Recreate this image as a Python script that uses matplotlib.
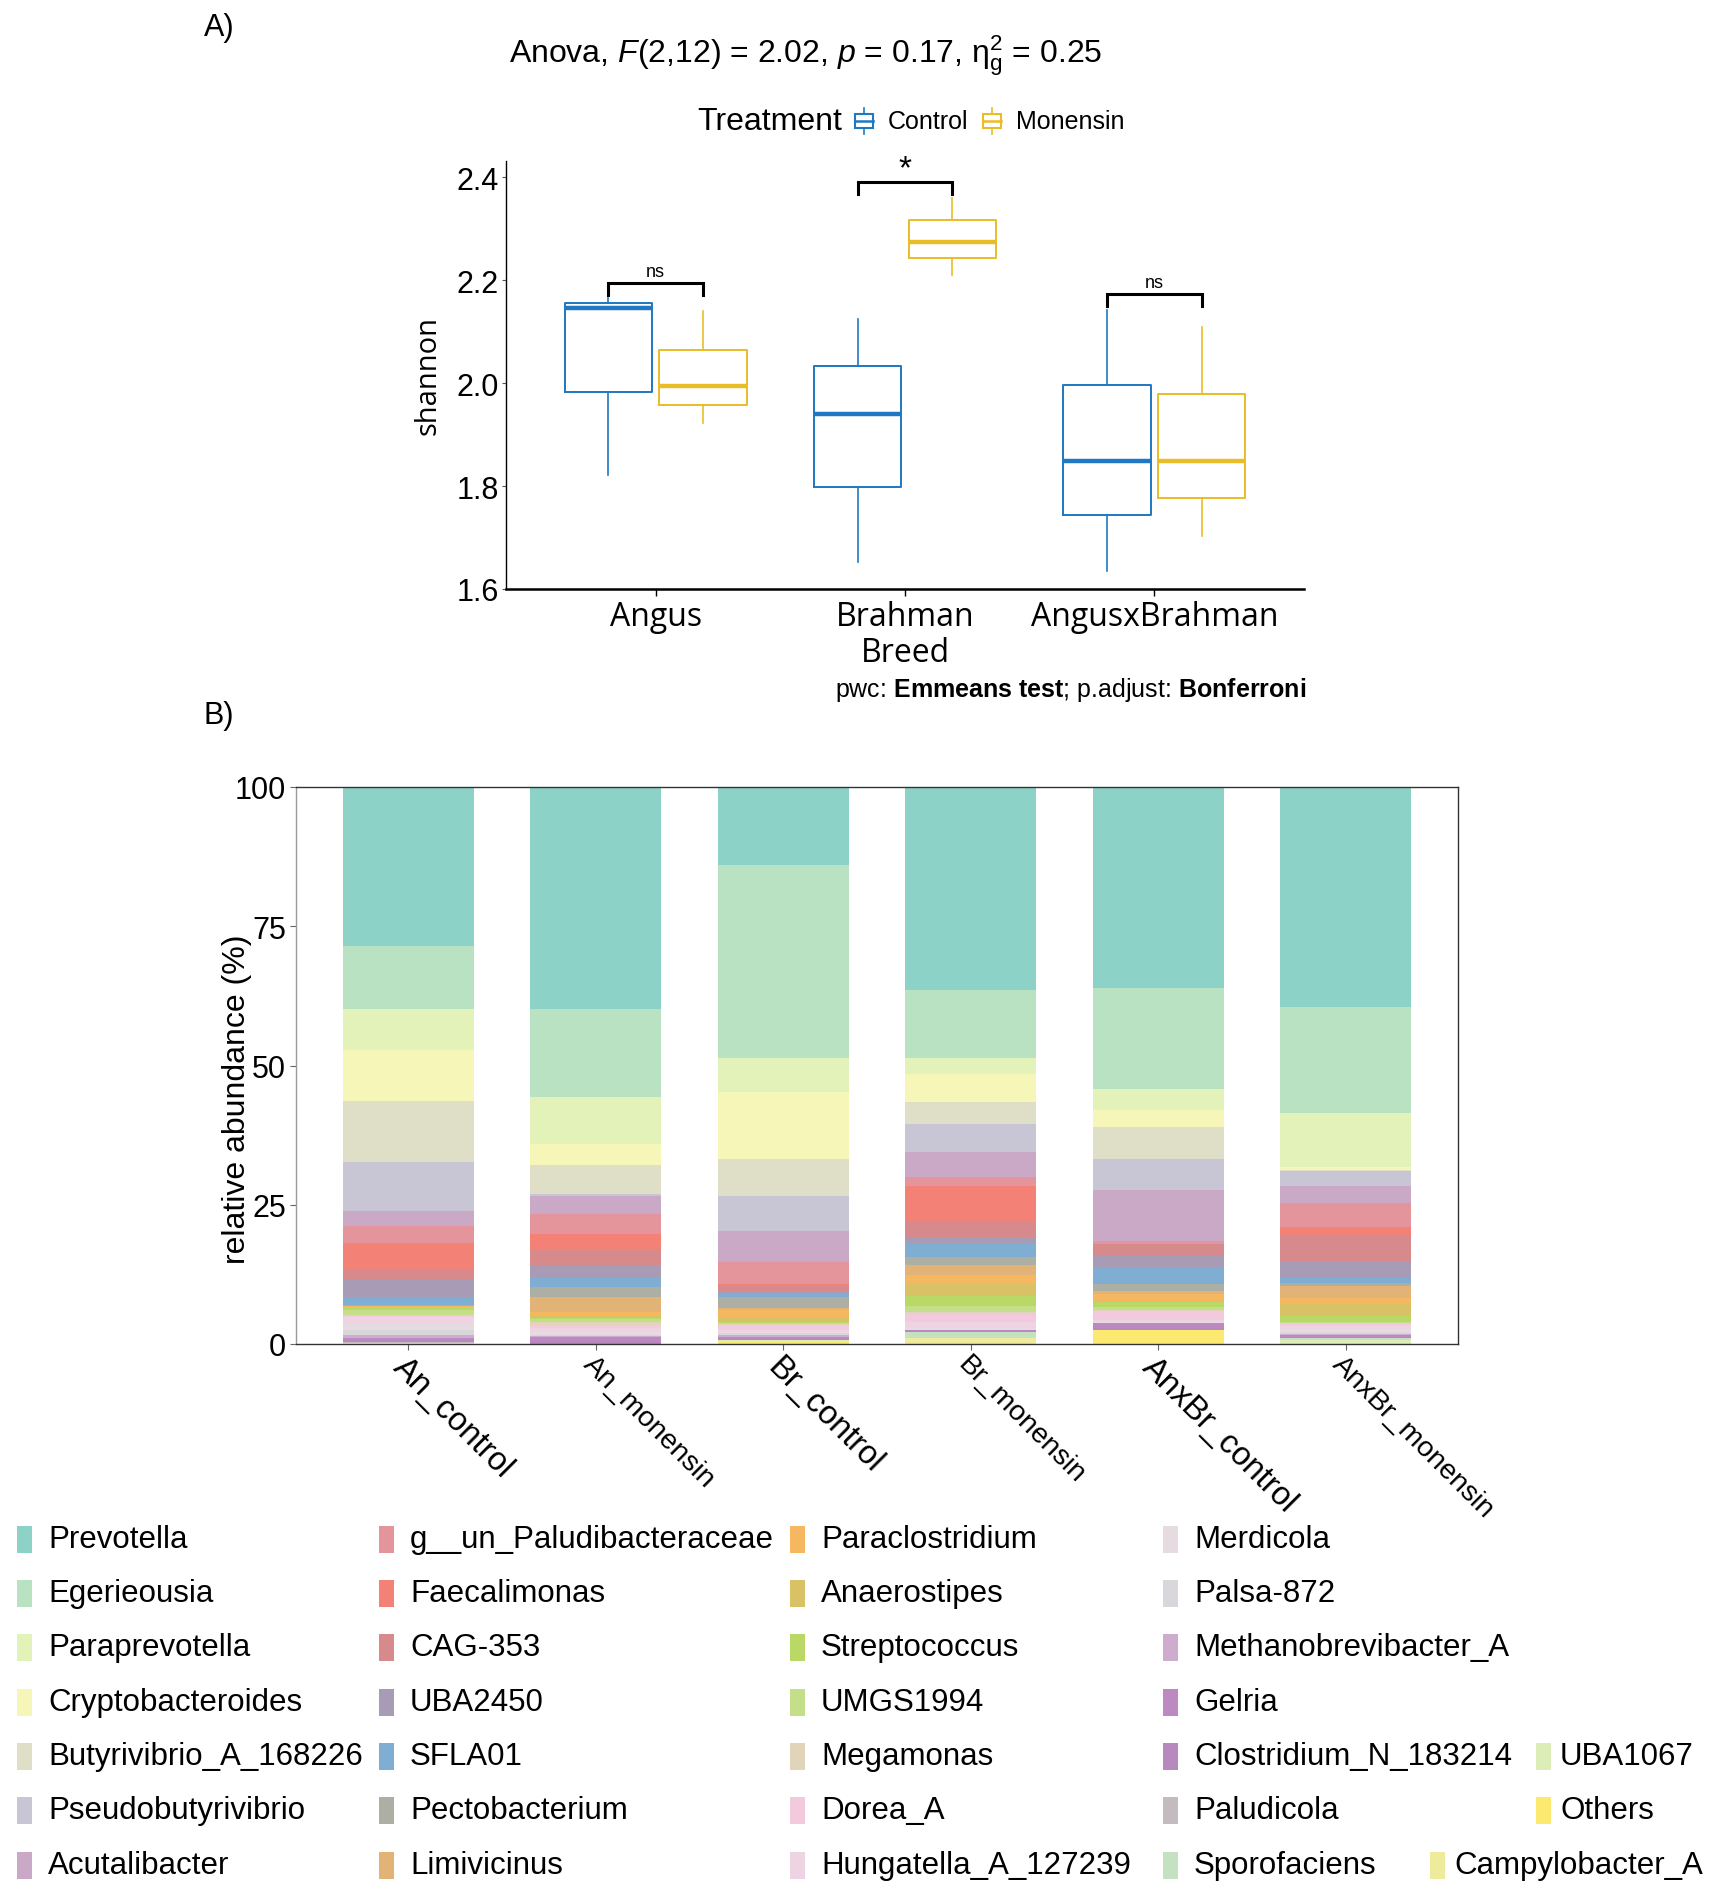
import matplotlib
matplotlib.use("Agg")
import matplotlib.pyplot as plt
from matplotlib.patches import Rectangle
from matplotlib.lines import Line2D

plt.rcParams['font.family'] = ['Liberation Sans', 'DejaVu Sans']
plt.rcParams['mathtext.fontset'] = 'custom'
plt.rcParams['mathtext.rm'] = 'Liberation Sans'
plt.rcParams['mathtext.it'] = 'Liberation Sans:italic'
plt.rcParams['mathtext.bf'] = 'Liberation Sans:bold'

# ---------------- panel A data ----------------
breeds = ['Angus', 'Brahman', 'AngusxBrahman']
treatments = ['Control', 'Monensin']
treat_colors = ['#1f78c1', '#e9bd27']
# [lower whisker, q1, median, q3, upper whisker] per breed
control_stats = [
    [1.822, 1.983, 2.147, 2.155, 2.165],
    [1.653, 1.799, 1.941, 2.034, 2.124],
    [1.635, 1.743, 1.849, 1.996, 2.143],
]
monensin_stats = [
    [1.923, 1.958, 1.994, 2.065, 2.140],
    [2.211, 2.244, 2.275, 2.317, 2.360],
    [1.704, 1.776, 1.849, 1.979, 2.110],
]
sig_labels = ['ns', '*', 'ns']
sig_y = [2.195, 2.391, 2.174]

# ---------------- panel B data ----------------
samples = ['An_control', 'An_monensin', 'Br_control', 'Br_monensin',
           'AnxBr_control', 'AnxBr_monensin']
taxa = ['Prevotella', 'Egerieousia', 'Paraprevotella', 'Cryptobacteroides',
        'Butyrivibrio_A_168226', 'Pseudobutyrivibrio', 'Acutalibacter',
        'g__un_Paludibacteraceae', 'Faecalimonas', 'CAG-353', 'UBA2450',
        'SFLA01', 'Pectobacterium', 'Limivicinus', 'Paraclostridium',
        'Anaerostipes', 'Streptococcus', 'UMGS1994', 'Megamonas', 'Dorea_A',
        'Hungatella_A_127239', 'Merdicola', 'Palsa-872',
        'Methanobrevibacter_A', 'Gelria', 'Clostridium_N_183214',
        'Paludicola', 'Sporofaciens', 'UBA1067', 'Others', 'Campylobacter_A']
taxa_colors = ['#8dd2c6', '#b8e2c1', '#e2f2b9', '#f6f6b8', '#dfdfc8',
               '#c8c6d4', '#c9a9c6', '#e3959b', '#f48176', '#d68a8c',
               '#a89bb5', '#80aed3', '#aeafa4', '#e1b376', '#f5b760',
               '#d9c265', '#b9d866', '#c5de8a', '#e1d4b8', '#f3c9dd',
               '#eed3e3', '#e6dbe0', '#d9d7dc', '#cdacce', '#bc89c3',
               '#b789be', '#c3bbc0', '#c4e2c2', '#ddedb8', '#fcea70',
               '#eeeb9c']
an_control = [28.6, 11.2, 7.5, 9.1, 11.0, 8.7, 2.7, 3.1, 4.9, 1.5, 3.3, 1.4,
              0.1, 0.1, 0.1, 0.1, 0.5, 0.9, 0.1, 0.3, 1.2, 1.0, 0.9, 0.6, 0.4,
              0.3, 0.2, 0.1, 0.1, 0.0, 0.0]
an_monensin = [39.9, 15.8, 8.4, 3.8, 5.2, 0.4, 3.2, 3.5, 2.9, 2.9, 2.2, 1.5,
               1.9, 2.7, 0.6, 0.4, 0.3, 0.4, 0.6, 0.5, 0.8, 0.4, 0.3, 0.1, 0.8,
               0.5, 0.0, 0.0, 0.0, 0.0, 0.0]
br_control = [14.0, 34.7, 6.1, 12.0, 6.7, 6.3, 5.5, 4.0, 0.2, 1.0, 0.5, 0.5,
              2.0, 0.4, 1.3, 0.8, 0.2, 0.2, 0.3, 0.8, 0.3, 0.3, 0.3, 0.4, 0.2,
              0.2, 0.0, 0.1, 0.1, 0.6, 0.0]
br_monensin = [36.5, 12.2, 2.8, 5.0, 4.0, 5.1, 4.5, 1.6, 6.2, 3.0, 1.1, 2.3,
               1.6, 1.7, 1.6, 2.2, 1.7, 1.2, 0.3, 1.5, 1.1, 0.2, 0.0, 0.1, 0.2,
               0.1, 0.0, 1.2, 0.0, 0.0, 1.0]
anxbr_control = [36.1, 18.2, 3.6, 3.2, 5.7, 5.6, 9.1, 0.6, 0.0, 1.9, 2.1, 3.1,
                 1.2, 0.6, 1.2, 0.3, 0.9, 0.5, 0.2, 1.6, 0.3, 0.2, 0.0, 0.1,
                 0.9, 0.2, 0.0, 0.0, 0.0, 2.6, 0.0]
anxbr_monensin = [39.5, 19.1, 9.6, 0.6, 0.2, 2.7, 3.0, 4.3, 1.4, 4.7, 3.0, 0.9,
                  0.6, 2.1, 0.9, 2.4, 1.0, 0.2, 0.2, 0.4, 0.5, 0.6, 0.3, 0.1,
                  0.4, 0.2, 0.0, 0.4, 0.7, 0.0, 0.0]
abundances = [an_control, an_monensin, br_control, br_monensin,
              anxbr_control, anxbr_monensin]

W, H = 1720, 1899
fig = plt.figure(figsize=(W / 100, H / 100), dpi=100)


def fx(x):
    return x / W


def fy(y):
    return 1 - y / H


# ================= Panel A =================
axA = fig.add_axes([fx(506), fy(590), fx(1304) - fx(506), fy(162) - fy(590)])
dodge = 0.19
for ti, (stats_list, col) in enumerate(zip([control_stats, monensin_stats], treat_colors)):
    stats = []
    for s in stats_list:
        stats.append(dict(whislo=s[0], q1=s[1], med=s[2], q3=s[3], whishi=s[4], fliers=[]))
    pos = [i + 1 + (dodge if ti else -dodge) for i in range(len(breeds))]
    axA.bxp(stats, positions=pos, widths=0.35, showcaps=False, showfliers=False,
            boxprops=dict(color=col, lw=1.4),
            whiskerprops=dict(color=col, lw=1.2),
            medianprops=dict(color=col, lw=3.2, solid_capstyle='butt'))

# significance brackets
for i, (lab, yb) in enumerate(zip(sig_labels, sig_y)):
    x0, x1 = i + 1 - dodge, i + 1 + dodge
    tip = 0.024
    axA.plot([x0, x0, x1, x1], [yb - tip, yb, yb, yb - tip], color='black', lw=2.2,
             solid_joinstyle='miter')
    if lab == '*':
        axA.text(i + 1, yb - 0.004, lab, ha='center', va='bottom', fontsize=24)
    else:
        axA.text(i + 1, yb + 0.006, lab, ha='center', va='bottom', fontsize=13)

axA.set_xlim(0.4, 3.6)
axA.set_ylim(1.6, 2.432)
axA.set_xticks([1, 2, 3])
axA.set_xticklabels(breeds, family='Open Sans', fontsize=23)
axA.set_yticks([1.6, 1.8, 2.0, 2.2, 2.4])
axA.set_yticklabels(['1.6', '1.8', '2.0', '2.2', '2.4'], fontsize=22)
axA.tick_params(axis='x', length=5, width=1, pad=3)
axA.tick_params(axis='y', length=3, width=0.8, pad=2, color='#555555')
for s in ['top', 'right']:
    axA.spines[s].set_visible(False)
axA.spines['bottom'].set_linewidth(1.8)
axA.spines['left'].set_linewidth(1.0)
axA.set_xlabel('Breed', family='Open Sans', fontsize=23, labelpad=2)
axA.set_ylabel('shannon', family='Open Sans', fontsize=21, labelpad=10)

fig.text(fx(204), fy(28), 'A)', fontsize=22, ha='left', va='center')
fig.text(fx(806), fy(56),
         r'Anova, $\it{F}$(2,12) = 2.02, $\it{p}$ = 0.17, $\mathrm{\eta}_\mathrm{g}^\mathrm{2}$ = 0.25',
         fontsize=23, ha='center', va='center')

# treatment legend
fig.text(fx(697), fy(122), 'Treatment', fontsize=23, ha='left', va='center')
key_x = [855, 983]
for kx, col, lab in zip(key_x, treat_colors, treatments):
    bw, bh = 18, 14
    cy = 122
    fig.add_artist(Rectangle((fx(kx), fy(cy + bh / 2)), fx(bw), bh / H,
                             transform=fig.transFigure, fill=False, ec=col, lw=1.5))
    fig.add_artist(Line2D([fx(kx), fx(kx + bw)], [fy(cy), fy(cy)],
                          transform=fig.transFigure, color=col, lw=1.8))
    fig.add_artist(Line2D([fx(kx + bw / 2)] * 2, [fy(cy - 13), fy(cy - bh / 2)],
                          transform=fig.transFigure, color=col, lw=1.2))
    fig.add_artist(Line2D([fx(kx + bw / 2)] * 2, [fy(cy + bh / 2), fy(cy + 13)],
                          transform=fig.transFigure, color=col, lw=1.2))
    fig.text(fx(kx + 33), fy(cy), lab, fontsize=18, ha='left', va='center')

fig.text(fx(1306), fy(690),
         r'pwc: $\bf{Emmeans\ test}$; p.adjust: $\bf{Bonferroni}$',
         fontsize=18, ha='right', va='center')

# ================= Panel B =================
fig.text(fx(204), fy(716), 'B)', fontsize=22, ha='left', va='center')
axB = fig.add_axes([fx(296), fy(1345), fx(1458) - fx(296), fy(788) - fy(1345)])
xpos = list(range(1, len(samples) + 1))
bottoms = [0.0] * len(samples)
for ti in range(len(taxa) - 1, -1, -1):
    vals = [ab[ti] for ab in abundances]
    axB.bar(xpos, vals, width=0.7, bottom=bottoms, color=taxa_colors[ti], lw=0)
    bottoms = [b + v for b, v in zip(bottoms, vals)]

axB.set_xlim(0.4, 6.6)
axB.set_ylim(0, 100)
axB.set_yticks([0, 25, 50, 75, 100])
axB.set_yticklabels(['0', '25', '50', '75', '100'], fontsize=22)
axB.set_xticks(xpos)
axB.set_xticklabels(samples, rotation=-45, ha='left', va='top',
                    rotation_mode='anchor')
for lab in axB.get_xticklabels():
    lab.set_fontsize(23.5 if lab.get_text().endswith('control') else 20.5)
axB.tick_params(axis='both', length=4, width=0.8, color='#666666', pad=3)
axB.tick_params(axis='x', pad=1)
for s in axB.spines.values():
    s.set_color('#333333')
    s.set_linewidth(1.0)
axB.spines['left'].set_color('#999999')
fig.text(fx(237), fy(1099), 'relative abundance (%)', fontsize=23,
         rotation=90, ha='center', va='center')

# taxa legend
row_y = [1540, 1594, 1648, 1703, 1757, 1811, 1866]
col_x = [17, 379, 790, 1163]
for i, (name, col) in enumerate(zip(taxa, taxa_colors)):
    off = 31
    if i < 28:
        px, py = col_x[i // 7], row_y[i % 7]
    elif i < 30:
        px, py = 1536, row_y[i - 24]
        off = 24
    else:
        px, py = 1430, row_y[6]
        off = 24
    fig.add_artist(Rectangle((fx(px), fy(py + 14)), fx(15), 27 / H,
                             transform=fig.transFigure, color=col, lw=0))
    fig.text(fx(px + off), fy(py), name, fontsize=22.5, ha='left', va='center')

fig.savefig('out.png', dpi=100)
